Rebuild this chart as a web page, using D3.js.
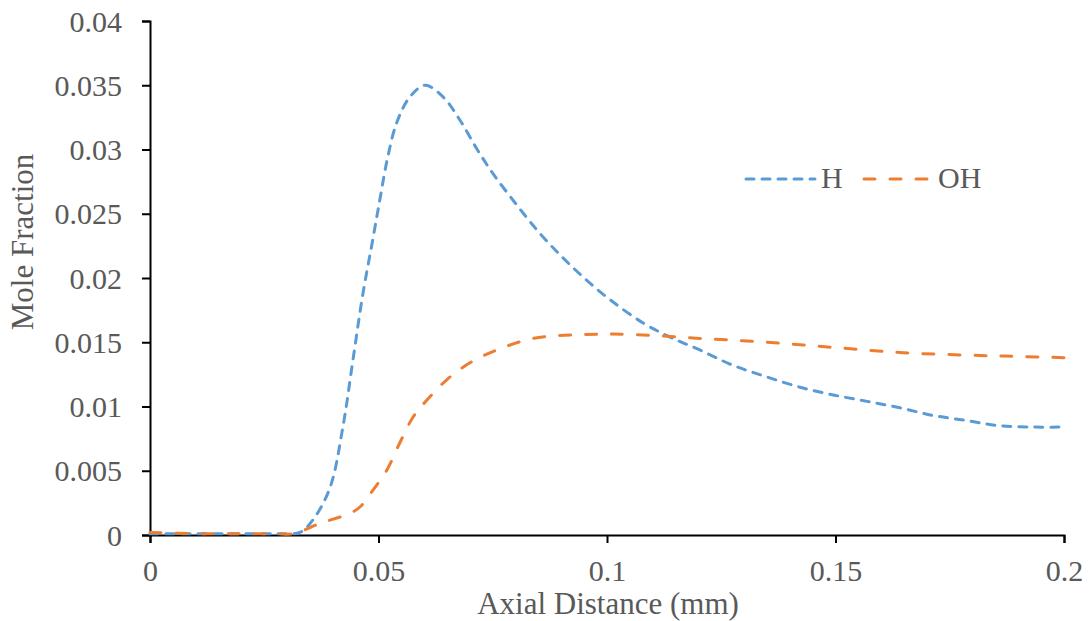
<!DOCTYPE html>
<html>
<head>
<meta charset="utf-8">
<script src="https://cdn.jsdelivr.net/npm/d3@7"></script>
<style>
  html, body { margin: 0; padding: 0; background: #fff; }
  svg { display: block; }
  text { font-family: "Liberation Serif", "Times New Roman", serif; fill: #595959; }
</style>
</head>
<body>
<svg id="chart" width="1089" height="621"></svg>
<script>
// ---- data ----
const hX = [0, 0.01, 0.02, 0.028, 0.0328, 0.0357, 0.0394, 0.0422, 0.0444, 0.0466, 0.0486, 0.0503, 0.0519, 0.054, 0.0569, 0.0602, 0.0641, 0.0678, 0.0716, 0.0751, 0.08, 0.085, 0.09, 0.095, 0.1007, 0.1079, 0.1138, 0.1203, 0.1276, 0.135, 0.1422, 0.1495, 0.1569, 0.1641, 0.1714, 0.1788, 0.186, 0.1935, 0.2];
const hY = [0.0001, 0.0001, 0.0001, 0.0001, 0.0002, 0.0012, 0.0037, 0.0084, 0.0136, 0.0188, 0.0227, 0.0261, 0.0292, 0.0321, 0.0341, 0.035, 0.0341, 0.0323, 0.0300, 0.0281, 0.0258, 0.0236, 0.0217, 0.0200, 0.0183, 0.0165, 0.0154, 0.0144, 0.0132, 0.0123, 0.0115, 0.0109, 0.0104, 0.0099, 0.0093, 0.0089, 0.0085, 0.0084, 0.0084];
const ohX = [0, 0.01, 0.02, 0.028, 0.0313, 0.0372, 0.0438, 0.046, 0.0488, 0.0519, 0.0547, 0.0576, 0.0606, 0.065, 0.07, 0.0759, 0.0839, 0.0948, 0.1057, 0.1203, 0.135, 0.1495, 0.1641, 0.1788, 0.1897, 0.2];
const ohY = [0.0002, 0.0001, 0.0001, 0.0001, 0.0001, 0.0009, 0.0017, 0.0022, 0.0035, 0.0051, 0.0072, 0.0092, 0.0105, 0.0121, 0.0134, 0.0144, 0.0153, 0.0156, 0.0156, 0.0153, 0.0150, 0.0146, 0.0142, 0.0140, 0.0139, 0.0138];
const xTicks = [0, 0.05, 0.1, 0.15, 0.2];
const xTickLabels = ["0", "0.05", "0.1", "0.15", "0.2"];
const yTicks = [0, 0.005, 0.01, 0.015, 0.02, 0.025, 0.03, 0.035, 0.04];
const yTickLabels = ["0", "0.005", "0.01", "0.015", "0.02", "0.025", "0.03", "0.035", "0.04"];
const seriesNames = ["H", "OH"];
const seriesColors = ["#5B9BD5", "#ED7D31"];

// ---- chart ----
const svg = d3.select("#chart");
const x = d3.scaleLinear().domain([0, 0.2]).range([150, 1064]);
const y = d3.scaleLinear().domain([0, 0.04]).range([535, 21]);

const series = [
  { name: seriesNames[0], color: seriesColors[0], dash: "8,8", pts: hX.map((v, i) => [v, hY[i]]) },
  { name: seriesNames[1], color: seriesColors[1], dash: "11,15", pts: ohX.map((v, i) => [v, ohY[i]]) }
];

const line = d3.line().x(d => x(d[0])).y(d => y(d[1])).curve(d3.curveCatmullRom.alpha(0.5));

// axes
const xAxis = d3.axisBottom(x).tickValues(xTicks).tickFormat((d, i) => xTickLabels[i]).tickSizeOuter(0).tickSize(8);
const yAxis = d3.axisLeft(y).tickValues(yTicks).tickFormat((d, i) => yTickLabels[i]).tickSizeOuter(0).tickSize(8).tickPadding(20);

const gx = svg.append("g").attr("transform", "translate(0,535)").call(xAxis);
const gy = svg.append("g").attr("transform", "translate(150,0)").call(yAxis);
[gx, gy].forEach(g => {
  g.select(".domain").attr("stroke", "#000").attr("stroke-width", 2);
  g.selectAll(".tick line").attr("stroke", "#000").attr("stroke-width", 2);
  g.selectAll(".tick text").style("font-family", "'Liberation Serif', serif").style("font-size", "30px").attr("fill", "#595959");
});
gy.selectAll(".tick text").attr("dy", "0.34em");
gx.selectAll(".tick text").attr("y", 46).attr("dy", null);

// lines
series.forEach(s => {
  svg.append("path").datum(s.pts)
    .attr("d", line)
    .attr("fill", "none")
    .attr("stroke", s.color)
    .attr("stroke-width", 3)
    .attr("stroke-linecap", "round")
    .attr("stroke-dasharray", s.dash);
});

// axis titles
svg.append("text").attr("x", 608).attr("y", 614).attr("text-anchor", "middle")
  .style("font-size", "31px").text("Axial Distance (mm)");
svg.append("text").attr("transform", "translate(33,242) rotate(-90)").attr("text-anchor", "middle")
  .style("font-size", "31px").text("Mole Fraction");

// legend
const legend = [
  { s: series[0], x1: 746, x2: 815, tx: 821 },
  { s: series[1], x1: 864, x2: 931, tx: 938 }
];
legend.forEach(l => {
  svg.append("line").attr("x1", l.x1).attr("x2", l.x2).attr("y1", 179).attr("y2", 179)
    .attr("stroke", l.s.color).attr("stroke-width", 3).attr("stroke-linecap", "round").attr("stroke-dasharray", l.s.dash);
  svg.append("text").attr("x", l.tx).attr("y", 188).style("font-size", "30px").text(l.s.name);
});
</script>
</body>
</html>
